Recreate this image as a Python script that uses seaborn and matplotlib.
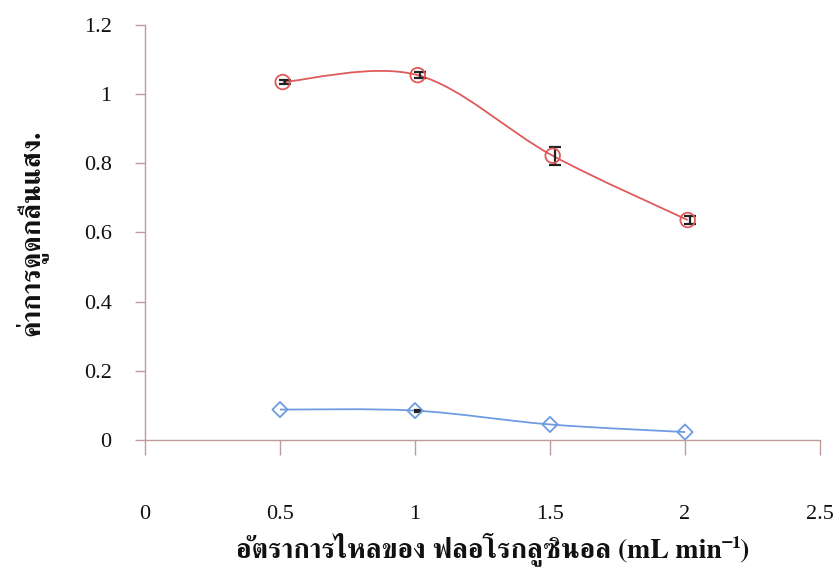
import numpy as np
import matplotlib
matplotlib.use("Agg")
import matplotlib.pyplot as plt
from matplotlib.path import Path
from matplotlib.patches import PathPatch
import seaborn as sns

# flow rate of phloroglucinol (mL/min)
flow_rate = [0.5, 1.0, 1.5, 2.0]
red_x = [0.51, 1.01, 1.51, 2.01]
red_abs = [1.035, 1.055, 0.822, 0.636]
red_err = [0.005, 0.008, 0.026, 0.012]
blue_abs = [0.088, 0.085, 0.045, 0.023]
blue_err = [0.0, 0.003, 0.0, 0.0]

x_ticks = [0, 0.5, 1, 1.5, 2, 2.5]
x_ticklabels = ["0", "0.5", "1", "1.5", "2", "2.5"]
y_ticks = [0, 0.2, 0.4, 0.6, 0.8, 1.0, 1.2]
y_ticklabels = ["0", "0.2", "0.4", "0.6", "0.8", "1", "1.2"]

x_label = "อัตราการไหลของ ฟลอโรกลูซินอล (mL min⁻¹)"
y_label = "ค่าการดูดกลืนแสง."

RED = "#e05a5a"
BLUE = "#6f9ce0"
AXIS = "#bf9c9c"


def smooth_path(xs, ys):
    """Excel-style smoothed line: cubic Bezier segments through the points."""
    pts = np.column_stack([xs, ys])
    n = len(pts)
    verts = [pts[0]]
    codes = [Path.MOVETO]
    for i in range(n - 1):
        p0 = pts[max(i - 1, 0)]
        p1 = pts[i]
        p2 = pts[i + 1]
        p3 = pts[min(i + 2, n - 1)]
        c1 = p1 + (p2 - p0) / 6
        c2 = p2 - (p3 - p1) / 6
        verts += [c1, c2, p2]
        codes += [Path.CURVE4] * 3
    return Path(verts, codes)


sns.set_style("ticks")
plt.rcParams["font.family"] = ["Liberation Serif", "FreeSerif"]

fig = plt.figure(figsize=(8.4, 5.73), dpi=100)
ax = fig.add_axes([0.1726, 0.2321, 0.8036, 0.7243])

# smooth lines
ax.add_patch(PathPatch(smooth_path(red_x, red_abs), fill=False, edgecolor=RED, lw=1.3))
ax.add_patch(PathPatch(smooth_path(flow_rate, blue_abs), fill=False, edgecolor=BLUE, lw=1.3))

# error bars (only where there is a visible spread)
ax.errorbar(np.array(red_x) + 0.01, red_abs, yerr=red_err, fmt="none", ecolor="#222222",
            elinewidth=1.6, capsize=4, capthick=1.6, zorder=3)
bx = [x for x, e in zip(flow_rate, blue_err) if e > 0]
by = [y for y, e in zip(blue_abs, blue_err) if e > 0]
be = [e for e in blue_err if e > 0]
ax.errorbar(np.array(bx) + 0.01, by, yerr=be, fmt="none", ecolor="#222222",
            elinewidth=1.6, capsize=3, capthick=1.6, zorder=3)

# markers
sns.scatterplot(x=red_x, y=red_abs, ax=ax, marker="o", s=110, facecolor="none",
                edgecolor=RED, linewidth=1.3, zorder=4)
sns.scatterplot(x=flow_rate, y=blue_abs, ax=ax, marker="D", s=60, facecolor="none",
                edgecolor=BLUE, linewidth=1.3, zorder=4)

ax.set_xlim(0, 2.5)
ax.set_ylim(0, 1.2)
ax.set_xticks(x_ticks)
ax.set_xticklabels(x_ticklabels)
ax.set_yticks(y_ticks)
ax.set_yticklabels(y_ticklabels)

sns.despine(ax=ax)
for side in ["left", "bottom"]:
    ax.spines[side].set_color(AXIS)
    ax.spines[side].set_linewidth(1.0)
ax.tick_params(axis="x", direction="out", length=11, width=1.0, color=AXIS,
               pad=36, labelsize=16, labelcolor="#111111")
ax.tick_params(axis="y", direction="out", length=7, width=1.0, color=AXIS,
               pad=17, labelsize=16, labelcolor="#111111")

ax.set_xlabel(x_label, fontsize=20, fontweight="bold", family=["FreeSerif"],
              color="#111111")
ax.xaxis.set_label_coords(0.515, -0.222)
ax.set_ylabel(y_label, fontsize=20, fontweight="bold", family=["FreeSerif"],
              labelpad=26, color="#111111")

fig.savefig("out.png", dpi=100)
